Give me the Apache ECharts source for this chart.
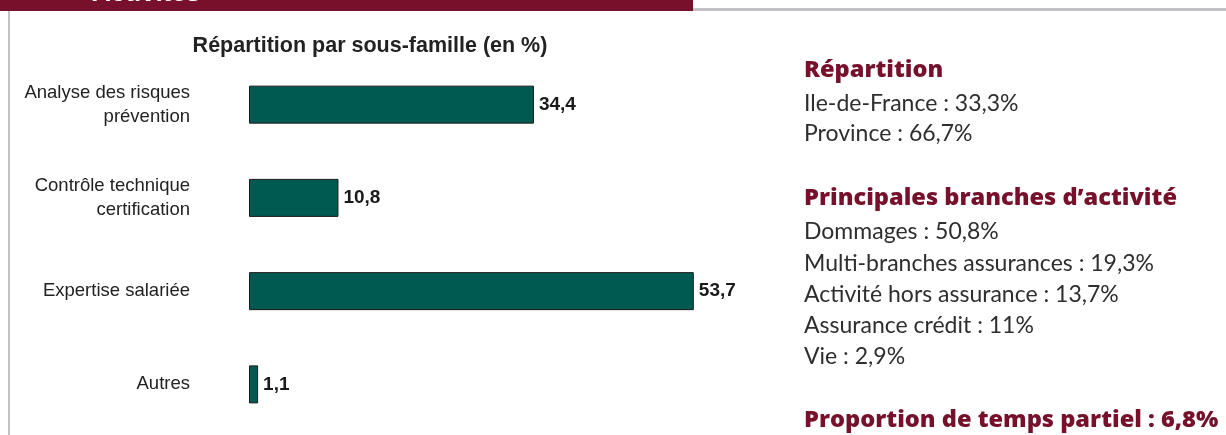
<!DOCTYPE html>
<html>
<head>
<meta charset="utf-8">
<script src="https://cdn.jsdelivr.net/npm/echarts@6/dist/echarts.min.js"></script>
<style>
  html, body { margin: 0; padding: 0; background: #fff; }
  #chart { width: 1226px; height: 435px; }
</style>
</head>
<body>
<div id="chart"></div>
<script>
var categories = ['Analyse des risques\nprévention', 'Contrôle technique\ncertification', 'Expertise salariée', 'Autres'];
var values = [34.4, 10.8, 53.7, 1.1];

var regionTitle = 'Répartition';
var regionLines = ['Ile-de-France : 33,3%', 'Province : 66,7%'];
var branchTitle = 'Principales branches d\u2019activité';
var branchLines = ['Dommages : 50,8%', 'Multi-branches assurances : 19,3%', 'Activité hors assurance : 13,7%', 'Assurance crédit : 11%', 'Vie : 2,9%'];
var partTimeTitle = 'Proportion de temps partiel : 6,8%';

var maroon = '#76102b';
var headFont = '"Open Sans", Lato, sans-serif';
var bodyFont = 'Lato, "Open Sans", sans-serif';

// side panel text, y is the vertical middle of the line
function sideText(text, y, heading) {
  return {
    type: 'text', x: 804, y: y,
    style: {
      text: text,
      fill: heading ? maroon : '#2e2e2e',
      font: heading ? ('800 23.6px ' + headFont) : ('23px ' + bodyFont),
      textVerticalAlign: 'middle'
    }
  };
}

var graphics = [
  { type: 'rect', shape: { x: 0, y: 0, width: 693, height: 11 }, style: { fill: maroon } },
  { type: 'rect', shape: { x: 693, y: 8, width: 533, height: 3 }, style: { fill: '#c2c2c6' } },
  { type: 'rect', shape: { x: 8, y: 11, width: 2, height: 424 }, style: { fill: '#c2c2c6' } },
  { type: 'text', x: 92, y: 7, style: { text: 'Activités', fill: '#fff', font: 'bold 26px "Liberation Sans", Arial, sans-serif', textVerticalAlign: 'bottom' } },
  sideText(regionTitle, 70, true)
];
regionLines.forEach(function (t, i) { graphics.push(sideText(t, 104 + i * 30, false)); });
graphics.push(sideText(branchTitle, 198, true));
branchLines.forEach(function (t, i) { graphics.push(sideText(t, 232 + i * 31.2, false)); });
graphics.push(sideText(partTimeTitle, 420, true));

var chart = echarts.init(document.getElementById('chart'));
chart.setOption({
  animation: false,
  title: {
    text: 'Répartition par sous-famille (en %)',
    left: 365, top: 30, textAlign: 'center',
    textStyle: { fontFamily: '"Liberation Sans", Arial, sans-serif', fontWeight: 'bold', fontSize: 21.5, color: '#222' }
  },
  grid: { left: 249, top: 58, width: 497, height: 373 },
  xAxis: {
    type: 'value', min: 0, max: 60, show: false
  },
  yAxis: {
    type: 'category', data: categories, inverse: true,
    axisLine: { show: false }, axisTick: { show: false },
    axisLabel: {
      margin: 59, align: 'right', lineHeight: 24,
      fontFamily: '"Liberation Sans", Arial, sans-serif', fontSize: 18.5, color: '#222'
    }
  },
  series: [{
    type: 'bar', data: values, barWidth: 38,
    itemStyle: { color: '#005a52', borderColor: '#1b1b1b', borderWidth: 1 },
    label: {
      show: true, position: 'right', distance: 5,
      formatter: function (p) { return String(p.value).replace('.', ','); },
      fontFamily: '"Liberation Sans", Arial, sans-serif', fontWeight: 'bold', fontSize: 19, color: '#1a1a1a'
    }
  }],
  graphic: graphics
});
</script>
</body>
</html>
